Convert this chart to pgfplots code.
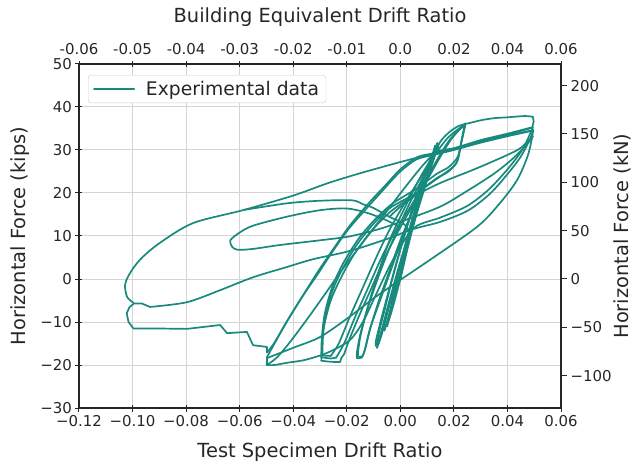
\documentclass[border=0pt]{standalone}
\usepackage{pgfplots}
\pgfplotsset{compat=1.18}
\usepackage{fontspec}
\setmainfont{DejaVu Sans}
\definecolor{tealc}{RGB}{24,138,125}
\pgfplotsset{
  hyst/.style={color=tealc, line width=1.7bp, line join=round, line cap=round, smooth, tension=0.5, forget plot},
  hystsharp/.style={color=tealc, line width=1.7bp, line join=round, line cap=round, forget plot},
}
\begin{document}
\begin{tikzpicture}
\begin{axis}[name=main,
  width=482bp, height=344bp, scale only axis,
  xmin=-0.12, xmax=0.06, ymin=-30, ymax=50,
  xtick={-0.12,-0.1,-0.08,-0.06,-0.04,-0.02,0,0.02,0.04,0.06},
  xticklabels={−0.12,−0.10,−0.08,−0.06,−0.04,−0.02,0.00,0.02,0.04,0.06},
  ytick={-30,-20,-10,0,10,20,30,40,50},
  yticklabels={−30,−20,−10,0,10,20,30,40,50},
  xtick pos=left, ytick pos=left,
  grid=major, major grid style={black!17, line width=1bp},
  tick align=center, major tick length=7bp,
  tick style={black!85, line width=1bp},
  axis line style={black!85, line width=1.2bp},
  tick label style={font=\fontsize{15}{18}\selectfont, text=black!85},
  label style={font=\fontsize{19.5}{23}\selectfont, text=black!85},
  xlabel={Test Specimen Drift Ratio},
  ylabel={Horizontal Force (kips)},
  xlabel style={at={(axis description cs:0.5,-0.128)}, anchor=center},
  ylabel style={at={(axis description cs:-0.1224,0.5)}, anchor=center},
  legend style={at={(0.0187,0.968)}, anchor=north west, draw=black!20, rounded corners=3bp,
    font=\fontsize{18.8}{22}\selectfont, inner xsep=5bp, inner ysep=4bp, fill=white, text=black!85},
  legend cell align=left,
  legend image code/.code={\draw[#1, line width=1.8bp] (0bp,0bp) -- (40bp,0bp); \path (49bp,0bp);},
]
% core small cycles
\addplot[color=tealc, line width=1.7bp, line join=round, line cap=round, smooth, tension=0.5] coordinates {(0,0) (0.002,6) (0.004,12) (0.006,17)};
\addlegendentry{Experimental data}
\addplot[hyst] coordinates {(0.006,17) (0.004,13) (0.001,6) (-0.002,-2) (-0.004,-8) (-0.005,-11)};
\addplot[hyst] coordinates {(-0.005,-11) (-0.003,-7) (0,0) (0.003,8) (0.005,14) (0.007,19)};
\addplot[hyst] coordinates {(0.007,19) (0.005,15) (0.002,7) (-0.001,-1) (-0.004,-8) (-0.006,-12)};
\addplot[hyst] coordinates {(-0.006,-12) (-0.004,-8) (-0.001,-1) (0.003,8) (0.006,15) (0.009,22) (0.011,26) (0.013,31)};
% group 2
\addplot[hyst] coordinates {(0.013,31) (0.012,29) (0.009,24.5) (0.005,17.5) (0.001,9) (-0.003,0) (-0.006,-7.5) (-0.008,-12.5) (-0.0087,-16)};
\addplot[hyst] coordinates {(-0.0087,-16) (-0.007,-13) (-0.004,-6) (0,3) (0.004,11) (0.008,19) (0.011,25) (0.0135,30.5)};
\addplot[hyst] coordinates {(0.0135,30.5) (0.0115,27.5) (0.008,22) (0.004,15) (0,7) (-0.004,-2) (-0.007,-9) (-0.009,-14) (-0.0092,-15.5)};
\addplot[hyst] coordinates {(-0.0092,-15.5) (-0.0075,-13) (-0.0045,-6) (-0.0005,3) (0.0035,11) (0.0075,19) (0.011,26) (0.0138,31.6)};
% group 3
\addplot[hyst] coordinates {(0.0138,31.6) (0.0115,28) (0.0075,23.7) (0.002,17) (-0.004,9) (-0.009,0) (-0.0125,-7.2) (-0.015,-13) (-0.0162,-17) (-0.0162,-18.4)};
\addplot[hyst] coordinates {(-0.0162,-18.4) (-0.0145,-18.3) (-0.0135,-17) (-0.0115,-12) (-0.008,-5) (-0.004,2) (0.0,9) (0.004,15) (0.008,21) (0.0115,26.5) (0.0142,31)};
\addplot[hyst] coordinates {(0.0142,31) (0.012,28.5) (0.0085,23.7) (0.003,17) (-0.0035,8) (-0.0085,0) (-0.0125,-7.5) (-0.0148,-13) (-0.0158,-17) (-0.0158,-18)};
\addplot[hyst] coordinates {(-0.0158,-18) (-0.0143,-18) (-0.013,-16) (-0.011,-11) (-0.007,-4) (-0.003,3) (0.001,10) (0.005,16.5) (0.009,22.5) (0.012,27) (0.0145,31.5) (0.018,34) (0.0215,35.5) (0.0241,36.0)};
% group 4
\addplot[hyst] coordinates {(0.0241,36) (0.0228,32) (0.0213,27.5) (0.018,25) (0.0137,23.5) (0.006,20) (-0.0039,16.5) (-0.0105,12.5) (-0.0162,8) (-0.0215,2.5) (-0.0255,-3) (-0.028,-9) (-0.0292,-14.5) (-0.0295,-19)};
\addplot[hystsharp] coordinates {(-0.0295,-19) (-0.027,-19.2) (-0.0245,-19.3) (-0.0225,-19.3) (-0.022,-18.3) (-0.021,-17.5)};
\addplot[hyst] coordinates {(-0.021,-17.5) (-0.019,-14) (-0.015,-8) (-0.01,-1) (-0.005,6) (0.0,12) (0.005,17.5) (0.01,23) (0.015,28.5) (0.019,32.5) (0.0225,35) (0.0243,36.2)};
\addplot[hyst] coordinates {(0.0243,36.2) (0.023,32.5) (0.0215,28.5) (0.018,26) (0.0137,24.5) (0.006,21) (-0.003,17.5) (-0.01,13.5) (-0.016,9) (-0.0215,3.5) (-0.0255,-2) (-0.0282,-8) (-0.0293,-13.5) (-0.0295,-18.2)};
\addplot[hystsharp] coordinates {(-0.0295,-18.2) (-0.026,-18.5) (-0.024,-18.3)};
\addplot[hyst] coordinates {(-0.024,-18.3) (-0.021,-15) (-0.017,-9) (-0.012,-2) (-0.007,5) (-0.002,11) (0.004,17) (0.009,22.5) (0.014,28) (0.018,32) (0.0215,34.5) (0.0242,35.7)};
\addplot[hyst] coordinates {(0.0242,35.7) (0.0225,31) (0.021,27) (0.0175,25) (0.013,23) (0.005,19.5) (-0.004,15.5) (-0.011,11) (-0.017,6) (-0.022,0.5) (-0.026,-5) (-0.0285,-11) (-0.029,-15) (-0.029,-17.8)};
\addplot[hystsharp] coordinates {(-0.029,-17.8) (-0.026,-17.9)};
% group 5, cycle 1
\addplot[hyst] coordinates {(-0.026,-17.9) (-0.023,-15) (-0.019,-9) (-0.014,-2) (-0.009,5) (-0.004,11.5) (0.002,18) (0.008,24) (0.013,29) (0.018,33) (0.0241,36.0)};
\addplot[hyst] coordinates {(0.0241,36.0) (0.03,36.9) (0.035,37.4) (0.04,37.6) (0.0465,37.9) (0.0495,37.7)};
\addplot[hystsharp] coordinates {(0.0495,37.7) (0.0498,36.6) (0.0493,35.3)};
\addplot[hyst] coordinates {(0.0493,35.3) (0.04,33.8) (0.03,32.3) (0.02,30.4) (0.012,29.2) (0.0062,28.3) (0.0,25.5) (-0.006,21.5) (-0.012,17.5) (-0.019,12.3) (-0.025,7) (-0.031,1.5) (-0.036,-3.5) (-0.042,-9.5) (-0.047,-15) (-0.0498,-18.2)};
\addplot[hystsharp] coordinates {(-0.0498,-18.2) (-0.0499,-20)};
\addplot[hyst] coordinates {(-0.0499,-20) (-0.047,-20) (-0.0425,-19.5) (-0.0362,-18.9) (-0.03,-17.8) (-0.025,-16.5) (-0.0188,-14.2) (-0.014,-10) (-0.009,-3.5) (-0.004,3) (0.001,8.5) (0.006,12.3) (0.015,14.3) (0.025,17) (0.033,20.8) (0.04,25.5) (0.0455,30) (0.049,34.5) (0.0495,35.2)};
% group 5, cycle 2
\addplot[hyst] coordinates {(0.0495,35.2) (0.04,33.6) (0.03,32) (0.02,30.4) (0.0137,29.6) (0.0085,26.5) (0.002,21.5) (-0.0039,16.7) (-0.01,11.8) (-0.0162,6.7) (-0.0225,1.5) (-0.0289,-4.2) (-0.035,-9.5) (-0.041,-14.5) (-0.046,-18.2) (-0.0498,-20)};
\addplot[hystsharp] coordinates {(-0.0498,-20) (-0.0498,-18.4)};
\addplot[hyst] coordinates {(-0.0498,-18.4) (-0.04,-16) (-0.03,-13.5) (-0.019,-8.8) (-0.01,-4.5) (0,-0.2) (0.01,4) (0.0286,12.1) (0.037,17.5) (0.0436,23) (0.0475,28.5) (0.049,32.3) (0.0495,34.5)};
% group 5, cycle 3 and push to -0.10
\addplot[hyst] coordinates {(0.0495,34.5) (0.04,33.2) (0.03,31.7) (0.02,30) (0.012,28.8) (0.006,27.8) (0.0,25) (-0.006,21) (-0.0125,16.5) (-0.0195,11.5) (-0.0255,6.2) (-0.031,1) (-0.0365,-4) (-0.0425,-10) (-0.047,-14.8) (-0.0498,-17.1)};
\addplot[hystsharp] coordinates {(-0.0498,-17.1) (-0.0498,-15.8) (-0.055,-15.4) (-0.0573,-12.3) (-0.0647,-12.6) (-0.0673,-10.7) (-0.0797,-11.6) (-0.092,-11.5) (-0.0997,-11.5) (-0.1015,-10) (-0.1022,-8) (-0.1012,-6.6) (-0.0995,-5.7) (-0.0965,-5.7) (-0.0935,-6.5)};
\addplot[hyst] coordinates {(-0.0935,-6.5) (-0.0797,-5.4) (-0.0673,-2.6) (-0.055,0.4) (-0.0423,2.8) (-0.0326,4.6) (-0.019,6.5) (-0.005,9.3) (0.0047,11.6) (0.015,13.3) (0.0249,15.8) (0.032,19) (0.0372,22.3) (0.0445,28) (0.0484,32.5) (0.0497,34.6)};
\addplot[hyst] coordinates {(0.0497,34.6) (0.04,33.4) (0.03,31.9) (0.02,30.3) (0.01,28.8) (0.0,27.2) (-0.015,24.6) (-0.027,22.3) (-0.04,19.4) (-0.0588,16) (-0.0774,13) (-0.0898,8.4) (-0.0972,4.5) (-0.1013,1) (-0.1028,-1.5) (-0.102,-4.2) (-0.0995,-5.6)};
% further lines
\addplot[hyst] coordinates {(0.0495,33.2) (0.045,30.5) (0.0398,28.8) (0.028,25.6) (0.0148,22.3) (0.006,19.5) (0.0,16.8) (-0.004,14.5)};
\addplot[hyst] coordinates {(0.003,11.5) (0.0009,13) (-0.0039,14.4) (-0.01,16.5) (-0.014,17.4) (-0.018,18.3) (-0.03,18.2) (-0.041,17.7) (-0.05,16.9) (-0.058,16.1)};
\addplot[hyst] coordinates {(0.0,12) (-0.005,13.6) (-0.012,15.3) (-0.02,16.4) (-0.03,16) (-0.0423,14.5) (-0.055,12.4) (-0.06,10.8) (-0.0635,9) (-0.0628,7.5) (-0.0608,6.8) (-0.055,7) (-0.045,7.9) (-0.03,9) (-0.019,9.9) (-0.008,11.6) (0.0,13.3) (0.0148,16.8) (0.025,20.5) (0.035,24.5) (0.042,28) (0.0475,31.5) (0.0495,33.2)};
\end{axis}
\begin{axis}[
  width=482bp, height=344bp, scale only axis,
  xmin=-0.12, xmax=0.06, ymin=-133.447, ymax=222.411,
  axis x line*=top, axis y line*=right,
  axis line style={black!85, line width=1.2bp, -},
  xtick={-0.12,-0.1,-0.08,-0.06,-0.04,-0.02,0,0.02,0.04,0.06},
  xticklabels={-0.06,-0.05,-0.04,-0.03,-0.02,-0.01,0.0,0.02,0.04,0.06},
  ytick={-100,-50,0,50,100,150,200},
  yticklabels={−100,−50,0,50,100,150,200},
  tick align=outside, major tick length=6bp,
  tick style={black!85, line width=1bp},
  xtick style={yshift=-3.5bp},
  tick label style={font=\fontsize{15}{18}\selectfont, text=black!85},
  label style={font=\fontsize{19.5}{23}\selectfont, text=black!85},
  xlabel={Building Equivalent Drift Ratio},
  ylabel={Horizontal Force (kN)},
  xlabel style={at={(axis description cs:0.5,1.1366)}, anchor=center},
  ylabel style={at={(axis description cs:1.1266,0.5)}, anchor=center},
]
\end{axis}
\pgfresetboundingbox
\path ([xshift=-79bp,yshift=-62bp]main.south west) rectangle ([xshift=78bp,yshift=64bp]main.north east);
\end{tikzpicture}
\end{document}
